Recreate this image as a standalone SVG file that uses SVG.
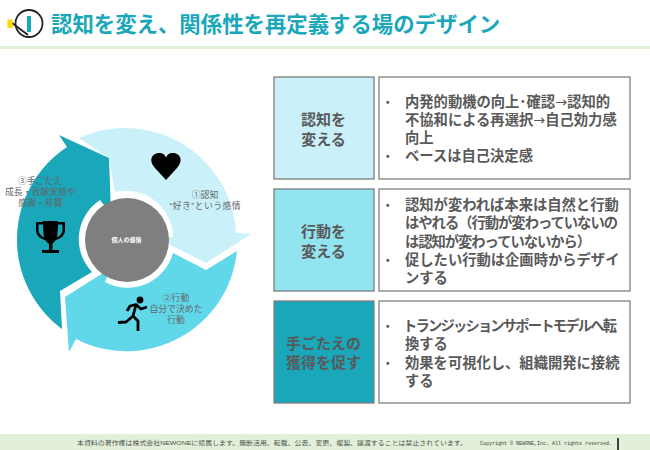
<svg xmlns="http://www.w3.org/2000/svg" width="650" height="450" viewBox="0 0 650 450" lang="ja">
<style>
text{font-family:"Liberation Sans","Noto Sans CJK JP","Noto Sans",sans-serif}
.box{stroke:#7f7f7f;stroke-width:1.3}
.tt{font-size:15px;font-weight:700;fill:#595959;text-anchor:middle}
.bd{font-size:14.300px;font-weight:700;fill:#595959}
.bu{font-size:10px}
.ar{font-family:"DejaVu Sans",sans-serif;font-weight:400}
.cy{font-size:8.900px;fill:#666;text-anchor:middle}
</style>
<rect width="650" height="450" fill="#fff"/>
<g id="header">
<rect x="0" y="46" width="650" height="3" fill="#e2f0d9"/>
<circle cx="29" cy="23.500" r="13.500" fill="none" stroke="#222" stroke-width="1.800"/>
<rect x="27" y="16" width="4" height="16" fill="#1aa7ba"/>
<path d="M12 23L28 35" stroke="#222" stroke-width="1.800" fill="none"/>
<rect x="7.500" y="19.500" width="5" height="8.500" fill="#ffd800"/>
<text x="51" y="32" font-size="21.400" font-weight="700" fill="#1aa7ba">認知を変え、関係性を再定義する場のデザイン</text>
</g>
<g id="cycle">
<g id="node-recognize">
<path d="M79 138A111 111 0 0 1 236 233L251 234L206 263L157 238L173 237A47 47 0 0 0 115 192L109 158Z" fill="#caf1f9"/>
<path d="M166 180L155 168C148 160 152 153 159.500 153C163 153 165 155 166 157.500C167 155 169 153 172.500 153C180 153 184 160 177 168Z" fill="#000"/>
<text class="cy"><tspan x="205" y="198">①認知</tspan><tspan x="205" y="209" textLength="71">“好き”という感情</tspan></text>
</g>
<g id="node-action">
<path d="M65 297L111 268L105 282A47 47 0 0 0 173 253L206 270L237 251A111 111 0 0 1 76 339L69 352Z" fill="#60d8ea"/>
<g fill="#000" stroke="#000">
<circle cx="140" cy="300" r="3.400" stroke="none"/>
<path d="M147 307L141 309L136 304.500L130 306L127 311M136 305L133 316L126 322L118 322.500M133 316L138 321L138 331" fill="none" stroke-width="2.800" stroke-linejoin="round"/>
</g>
<text class="cy"><tspan x="176" y="301">②行動</tspan><tspan x="176" y="312">自分で決めた</tspan><tspan x="176" y="323">行動</tspan></text>
</g>
<g id="node-response">
<path d="M59 135L109 158L111 214L100 200A47 47 0 0 0 92 272L60 291L62 329A111 111 0 0 1 67 147Z" fill="#1aa7ba"/>
<path d="M43 221H58V222H65V230C65 236 60 239 56 240C54 242 53 243 52.500 244V250H59V253H42V250H49V244C48 243 47 242 45 240C41 239 36 236 36 230V222H43ZM43 224.500H38.500V230C38.500 233 41 236 44 237.500C43.500 233 43 229 43 224.500ZM58 224.500C58 229 57.500 233 57 237.500C60 236 62.500 233 62.500 230V224.500Z" fill="#000" fill-rule="evenodd"/>
<text class="cy"><tspan x="40" y="184">③手ごたえ</tspan><tspan x="40.500" y="195">成長・貢献実感や</tspan><tspan x="40.500" y="206">感謝・称賛</tspan></text>
</g>
<g id="node-center">
<circle cx="127" cy="240" r="42" fill="#7f7f7f"/>
<text x="126.500" y="242" font-size="6px" font-weight="700" fill="#fff" text-anchor="middle">個人の感情</text>
</g>
</g>
<g id="row-1">
<rect class="box" x="274" y="77" width="100" height="102" fill="#caf1f9"/>
<text class="tt"><tspan x="323.500" y="125">認知を</tspan><tspan x="323.500" y="144.500">変える</tspan></text>
<rect class="box" x="379" y="77" width="251" height="102" fill="#fff"/>
<text class="bd"><tspan class="bu" x="386" y="106">•</tspan><tspan x="405" y="107">内発的動機の向上･確認</tspan><tspan class="ar">→</tspan><tspan>認知的</tspan><tspan x="405" y="125">不協和による再選択</tspan><tspan class="ar">→</tspan><tspan>自己効力感</tspan><tspan x="405" y="143">向上</tspan><tspan class="bu" x="386" y="160">•</tspan><tspan x="405" y="161">ベースは自己決定感</tspan></text>
</g>
<g id="row-2">
<rect class="box" x="274" y="189" width="100" height="102" fill="#93e4f1"/>
<text class="tt"><tspan x="323.500" y="237">行動を</tspan><tspan x="323.500" y="256.500">変える</tspan></text>
<rect class="box" x="379" y="189" width="251" height="102" fill="#fff"/>
<text class="bd"><tspan class="bu" x="386" y="209">•</tspan><tspan x="405" y="210">認知が変われば本来は自然と行動</tspan><tspan x="405" y="228" textLength="213">はやれる（行動が変わっていないの</tspan><tspan x="405" y="247" textLength="186">は認知が変わっていないから）</tspan><tspan class="bu" x="386" y="264">•</tspan><tspan x="405" y="265">促したい行動は企画時からデザイ</tspan><tspan x="405" y="283">ンする</tspan></text>
</g>
<g id="row-3">
<rect class="box" x="274" y="301" width="100" height="102" fill="#1aa7ba"/>
<text class="tt"><tspan x="323.500" y="348.500">手ごたえの</tspan><tspan x="323.500" y="368">獲得を促す</tspan></text>
<rect class="box" x="379" y="301" width="251" height="102" fill="#fff"/>
<text class="bd"><tspan class="bu" x="386" y="330">•</tspan><tspan x="403" y="331" textLength="214">トランジッションサポートモデルへ転</tspan><tspan x="405" y="349">換する</tspan><tspan class="bu" x="386" y="367">•</tspan><tspan x="405" y="368">効果を可視化し、組織開発に接続</tspan><tspan x="405" y="386">する</tspan></text>
</g>
<g id="footer">
<rect x="0" y="434" width="650" height="16" fill="#e2f0d9"/>
<text x="77" y="445" font-size="6.100" fill="#505050" textLength="390" lengthAdjust="spacingAndGlyphs">本資料の著作権は株式会社NEWONEに帰属します。無断活用、転載、公表、変更、複製、譲渡することは禁止されています。</text>
<text x="480" y="445" font-size="5.500" fill="#404040" style="font-family:'Liberation Mono','Noto Sans CJK JP',monospace" textLength="132" lengthAdjust="spacingAndGlyphs">Copyright © NEWONE,Inc. All rights reserved.</text>
<rect x="617" y="438" width="2" height="12" fill="#404040"/>
</g>
</svg>
